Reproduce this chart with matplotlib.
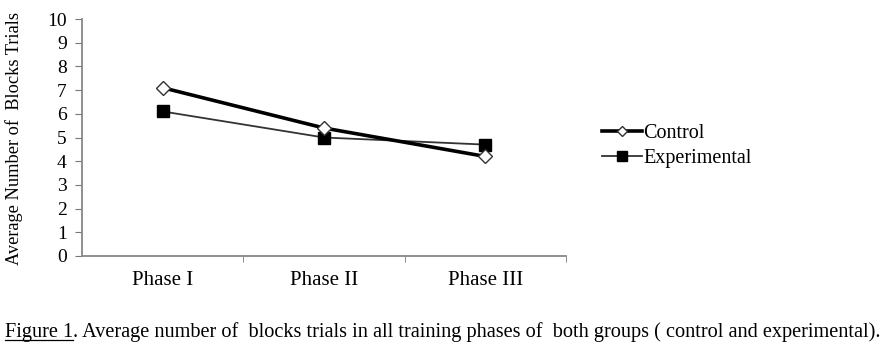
import numpy as np
import matplotlib.pyplot as plt

phases = ['Phase I', 'Phase II', 'Phase III']
control = [7.1, 5.4, 4.2]
experimental = [6.1, 5.0, 4.7]
y_ticks = list(range(0, 11))

plt.rcParams['font.family'] = ['Liberation Serif', 'DejaVu Serif']

fig = plt.figure(figsize=(8.84, 3.53), dpi=100)
ax = fig.add_axes([82/884, 1-256/353, (566-82)/884, (256-19)/353])

x = np.arange(len(phases))
ax.plot(x, control, color='black', lw=2.6, marker='D', ms=7,
        mfc='white', mec='#333333', mew=1.0, label='Control', zorder=3)
ax.plot(x, experimental, color='#333333', lw=1.3, marker='s', ms=9,
        mfc='black', mec='black', label='Experimental', zorder=2)

ax.set_xlim(-0.5, 2.5)
ax.set_ylim(0, 10)
ax.set_yticks(y_ticks)
ax.set_xticks(x)
ax.set_xticklabels(phases, fontsize=15)
ax.set_xticks([0.5, 1.5, 2.5], minor=True)
ax.tick_params(axis='x', which='major', length=0, pad=11)
ax.tick_params(axis='x', which='minor', length=4, color='#777777', direction='out')
ax.tick_params(axis='y', length=5, color='#777777', labelsize=14, pad=6)

for s in ['top', 'right']:
    ax.spines[s].set_visible(False)
for s in ['left', 'bottom']:
    ax.spines[s].set_color('#888888')
    ax.spines[s].set_linewidth(1.3)

ax.set_ylabel('Average Number of  Blocks Trials', fontsize=13.2)
ax.yaxis.set_label_coords(-0.122, 0.494)

fig.legend(loc='center left', bbox_to_anchor=(594/884, 1-146/353), frameon=False,
           fontsize=14.5, handlelength=2.0, handletextpad=0.05, labelspacing=0.3,
           borderaxespad=0, markerscale=0.75)

# caption with underlined "Figure 1"
renderer = fig.canvas.get_renderer()
cap_a = 'Figure 1'
cap_b = '. Average number of  blocks trials in all training phases of  both groups ( control and experimental).'
probe = fig.text(0, 0, cap_a + cap_b, fontsize=10)
w = probe.get_window_extent(renderer).width
probe.remove()
fs = 10 * (873 / w)
ycap = 1 - 337/353
t1 = fig.text(5/884, ycap, cap_a, fontsize=fs, va='baseline')
bb = t1.get_window_extent(renderer)
fig.text(bb.x1/884, ycap, cap_b, fontsize=fs, va='baseline')
uy = ycap - 3/353
fig.add_artist(plt.Line2D([bb.x0/884, bb.x1/884], [uy, uy], color='black', lw=0.9))

fig.savefig('out.png', dpi=100)
